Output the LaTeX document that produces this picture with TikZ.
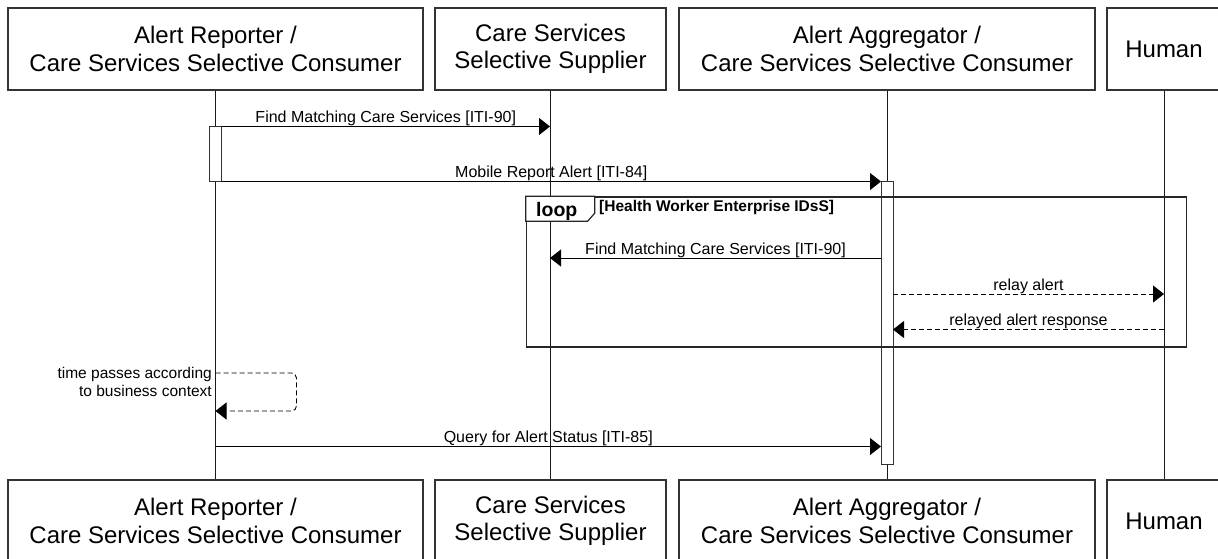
\documentclass[tikz,border=0pt]{standalone}
\usepackage{fontspec}
\setmainfont{Liberation Sans}
\usetikzlibrary{arrows.meta}
\begin{document}
\begin{tikzpicture}[x=1pt,y=-1pt,
  actor/.style={draw=black!80, line width=1.1pt, fill=white, minimum height=82pt,
    inner sep=0pt, align=center, font=\fontsize{24}{27.5}\selectfont},
  lifeline/.style={draw=black!90, line width=0.8pt},
  actbar/.style={draw=black!80, line width=0.8pt, fill=white, minimum width=12pt, inner sep=0pt},
  msg/.style={line width=1pt, -{Triangle[length=11pt,width=17pt]}},
  reply/.style={msg, line width=0.9pt, dash pattern=on 5pt off 3pt},
  lbl/.style={font=\fontsize{16}{18}\selectfont, inner sep=0pt, anchor=base, yshift=4pt},
  frame/.style={draw=black!85, line width=1.6pt}]
\useasboundingbox (0,0) rectangle (1218,558);

% participants, head and foot
\node[actor, minimum width=415pt] (p1t) at (215.5,49) {Alert Reporter /\\Care Services Selective Consumer};
\node[actor, minimum width=231pt] (p2t) at (550.5,49) {Care Services\\Selective Supplier};
\node[actor, minimum width=416pt] (p3t) at (887,49) {Alert Aggregator /\\Care Services Selective Consumer};
\node[actor, minimum width=114pt] (p4t) at (1164,49) {Human};
\node[actor, minimum width=415pt] (p1b) at (215.5,521) {Alert Reporter /\\Care Services Selective Consumer};
\node[actor, minimum width=231pt] (p2b) at (550.5,521) {Care Services\\Selective Supplier};
\node[actor, minimum width=416pt] (p3b) at (887,521) {Alert Aggregator /\\Care Services Selective Consumer};
\node[actor, minimum width=114pt] (p4b) at (1164,521) {Human};

% lifelines
\draw[lifeline] (p1t.south) -- (p1b.north);
\draw[lifeline] (p2t.south) -- (p2b.north);
\draw[lifeline] (p3t.south) -- (p3b.north);
\draw[lifeline] (p4t.south) -- (p4b.north);

% activations
\node[actbar, minimum height=55pt] (act1) at (215.5,154) {};
\node[actbar, minimum height=283pt] (act3) at (887,322.5) {};

% loop fragment
\node[frame, minimum width=660pt, minimum height=150pt, inner sep=0pt] (loopbox) at (856.5,272) {};
\draw[draw=black!85, line width=1.2pt, fill=white] (loopbox.north west) -- ++(69,0) -- ++(0,17)
  -- ++(-7,8) -- ++(-62,0) -- cycle;
\node[anchor=base west, inner sep=0pt, font=\bfseries\fontsize{19.5}{21}\selectfont] (looptag) at (536,216.5) {loop};
\node[anchor=base west, inner sep=0pt, font=\bfseries\fontsize{15.5}{17}\selectfont] (loopcond) at (599,211) {[Health Worker Enterprise IDsS]};

% message end points
\coordinate (m1a) at (221.5,126.5);  \coordinate (m1b) at (550,126.5);
\coordinate (m2a) at (221.5,181.5);  \coordinate (m2b) at (881,181.5);
\coordinate (m3a) at (881,258);      \coordinate (m3b) at (550,258);
\coordinate (m4a) at (893,294);      \coordinate (m4b) at (1164,294);
\coordinate (m5a) at (1164,329.5);   \coordinate (m5b) at (893,329.5);
\coordinate (s1) at (215.5,373);     \coordinate (s2) at (215.5,411);
\coordinate (m6a) at (215.5,446.5);  \coordinate (m6b) at (881,446.5);

% messages
\draw[msg] (m1a) -- node[lbl]{Find Matching Care Services [ITI-90]} (m1b);
\draw[msg] (m2a) -- node[lbl]{Mobile Report Alert [ITI-84]} (m2b);
\draw[msg] (m3a) -- node[lbl]{Find Matching Care Services [ITI-90]} (m3b);
\draw[reply] (m4a) -- node[lbl]{relay alert} (m4b);
\draw[reply] (m5a) -- node[lbl]{relayed alert response} (m5b);
\draw[reply, rounded corners=5pt] (s1) -- ++(81,0) -- ++(0,38) -- (s2);
\node[anchor=east, align=right, inner sep=0pt, font=\fontsize{15.5}{18.7}\selectfont] (selflbl) at (212,382) {time passes according\\to business context};
\draw[msg] (m6a) -- node[lbl]{Query for Alert Status [ITI-85]} (m6b);
\end{tikzpicture}
\end{document}
